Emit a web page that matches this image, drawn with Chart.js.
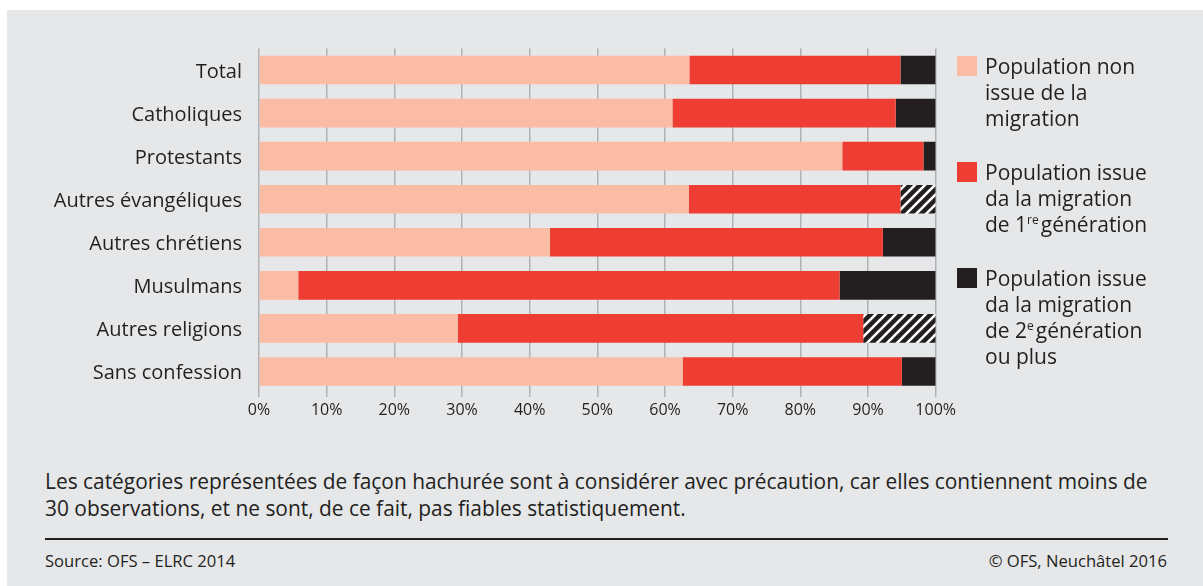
<!DOCTYPE html>
<html>
<head>
<meta charset="utf-8">
<script src="https://cdn.jsdelivr.net/npm/chart.js@4/dist/chart.umd.min.js"></script>
<style>
    html, body { margin: 0; padding: 0; background: #fff; }
    #page {
        position: absolute; left: 7px; top: 10px; width: 1196px; height: 576px;
        background: #e6e7e9; font-family: "Open Sans", sans-serif; color: #231f20;
    }
    #chart { position: absolute; left: -7px; top: -10px; }
    .legend { position: absolute; left: 950px; font-size: 21px; line-height: 26px; }
    .legend .sw { position: absolute; left: 0; top: 3px; width: 20px; height: 20px; }
    .legend .txt { position: absolute; left: 28px; white-space: nowrap; }
    sup { font-size: 12px; vertical-align: 8px; line-height: 0; margin-right: 2px; }
    #note { position: absolute; left: 38px; top: 458px; font-size: 20.9px; line-height: 27px; white-space: nowrap; }
    #rule { position: absolute; left: 38px; top: 528px; width: 1123px; height: 2px; background: #231f20; }
    .src { position: absolute; top: 539px; font-size: 16.6px; }
</style>
</head>
<body>
<div id="page">
    <canvas id="chart" width="960" height="432"></canvas>

    <div class="legend" style="top:43px;">
        <div class="sw" style="background:#fbbca6;"></div>
        <div class="txt">Population non<br>issue de la<br>migration</div>
    </div>
    <div class="legend" style="top:149px;">
        <div class="sw" style="background:#ee3d33;"></div>
        <div class="txt">Population issue<br>da la migration<br>de 1<sup>re</sup>génération</div>
    </div>
    <div class="legend" style="top:255px;">
        <div class="sw" style="background:#231f20;"></div>
        <div class="txt">Population issue<br>da la migration<br>de 2<sup>e</sup>génération<br>ou plus</div>
    </div>

    <div id="note">Les catégories représentées de façon hachurée sont à considérer avec précaution, car elles contiennent moins de<br>30 observations, et ne sont, de ce fait, pas fiables statistiquement.</div>
    <div id="rule"></div>
    <div class="src" style="left:38px;">Source: OFS – ELRC 2014</div>
    <div class="src" style="right:36px;">© OFS, Neuchâtel 2016</div>
</div>

<script>
var categories = ['Total', 'Catholiques', 'Protestants', 'Autres évangéliques', 'Autres chrétiens', 'Musulmans', 'Autres religions', 'Sans confession'];
var nonMigration = [63.6, 61.1, 86.2, 63.5, 43.0, 5.8, 29.4, 62.6];
var firstGen = [31.2, 33.0, 12.0, 31.3, 49.2, 80.0, 59.9, 32.4];
var secondGen = [5.2, 5.9, 1.8, 5.2, 7.8, 14.2, 10.7, 5.0];
var hatched = [false, false, false, true, false, false, true, false];

// hatch pattern: white diagonal stripes on black
var pc = document.createElement('canvas');
pc.width = 10; pc.height = 10;
var p = pc.getContext('2d');
p.fillStyle = '#231f20';
p.fillRect(0, 0, 10, 10);
p.strokeStyle = '#ffffff';
p.lineWidth = 2.6;
[[-5, 5, 5, -5], [0, 10, 10, 0], [5, 15, 15, 5]].forEach(function (l) {
    p.beginPath(); p.moveTo(l[0], l[1]); p.lineTo(l[2], l[3]); p.stroke();
});
var ctx = document.getElementById('chart').getContext('2d');
var hatch = ctx.createPattern(pc, 'repeat');

var chart = new Chart(ctx, {
    type: 'bar',
    data: {
        labels: categories,
        datasets: [{
            label: 'Population non issue de la migration',
            data: nonMigration,
            backgroundColor: '#fbbca6'
        }, {
            label: 'Population issue da la migration de 1re génération',
            data: firstGen,
            backgroundColor: '#ee3d33'
        }, {
            label: 'Population issue da la migration de 2e génération ou plus',
            data: secondGen,
            backgroundColor: hatched.map(h => h ? hatch : '#231f20')
        }]
    },
    options: {
        indexAxis: 'y',
        responsive: false,
        animation: false,
        devicePixelRatio: 1,
        layout: { padding: { top: 48.5, right: 20, left: 0, bottom: 0 } },
        datasets: { bar: { categoryPercentage: 1, barPercentage: 0.665, borderWidth: 0 } },
        scales: {
            x: {
                stacked: true,
                min: 0,
                max: 100,
                border: { display: false },
                grid: { color: '#b0b1b4', lineWidth: 1.5, tickLength: 4 },
                ticks: {
                    stepSize: 10,
                    padding: 4,
                    color: '#231f20',
                    font: { family: 'Open Sans', size: 16 },
                    callback: v => v + '%'
                },
                afterFit: s => { s.height = 39; }
            },
            y: {
                stacked: true,
                border: { display: false },
                grid: { display: false },
                ticks: {
                    padding: 9,
                    labelOffset: 2,
                    color: '#231f20',
                    font: { family: 'Open Sans', size: 20 }
                },
                afterFit: s => { s.width = 259; }
            }
        },
        plugins: {
            legend: { display: false },
            tooltip: { enabled: false }
        }
    }
});
</script>
</body>
</html>
